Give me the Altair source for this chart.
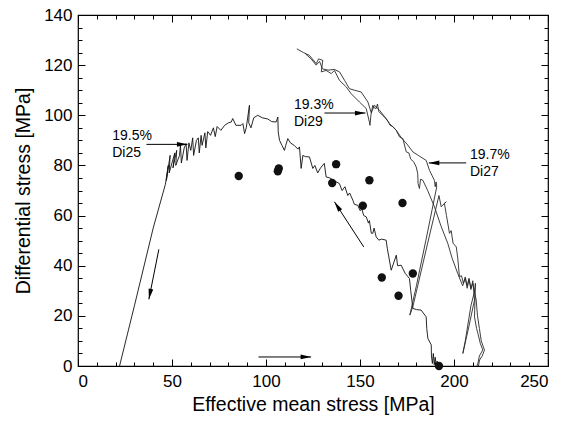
import math
import altair as alt
import pandas as pd

# ---------------- data ----------------
di25_x = [22.1, 30, 40, 46.5, 48, 47, 49, 48.5, 50, 51.5, 50.5, 52.5, 52, 54, 54.5, 55, 56.5, 57.5, 58, 59,
          60, 61, 61.5, 63, 64, 64.5, 65.5, 66, 67.5, 68, 69, 70.5, 72, 73, 74, 76, 78, 80, 81.5, 82.3,
          84, 86.8, 87.7, 88.6, 89.5, 91.2, 90.8, 92, 93.5, 95.6, 98, 101, 103, 105.4, 106.3, 106.5, 107.2,
          108.5, 109.8, 110.5, 111.6, 113, 115, 117, 117.8, 118.7, 119.6, 121, 123.1, 124.9, 126, 127.5,
          129, 131, 132, 134, 136, 139, 140.5, 142, 143.5, 144.5, 146.2, 147, 148.8, 150, 151, 152, 153.3,
          154.5, 155, 156, 156.8, 157.5, 158.6, 160, 161.5, 163.9, 164.5, 166.6, 169.3, 170, 171.9, 174,
          176.3, 177, 178.1, 180, 182.5, 185.2, 185.5, 186.1, 187.9, 188, 188.5, 189, 189.5, 190, 190.5,
          191, 191.5]
di25_y = [0, 24, 55, 72.5, 80, 74, 84, 77, 81, 85, 79, 86, 80, 84, 88, 81, 87, 88.7, 82, 89,
          86, 91, 84, 90, 91, 85, 92, 88, 93, 87, 93.5, 92, 95, 91.5, 95.5, 94, 96, 97, 97.3, 98.7,
          96, 96, 96.7, 92.7, 95, 104, 97, 95, 99, 100, 99, 98.5, 97.5, 97.3, 99.3, 93.3, 90,
          88, 86, 88, 90.7, 89, 88, 86.5, 87.4, 78.8, 84, 83.5, 83.4, 78.8, 80, 77,
          79, 80.8, 75.4, 75, 74, 72.8, 70, 71.5, 68, 69, 66.1, 64.5, 64.1, 62, 62.5, 60, 59.5,
          57, 58, 53, 52.9, 55, 51.5, 50.2, 50.6, 50.2, 47, 38.2, 44.2, 40, 40.2, 37,
          34.9, 30, 23, 22.5, 22.3, 19.6, 15, 11, 8.4, 4, 1, 5, 0.5, 3.5, 0.3,
          2, 0]

di29_x = [116.4, 120, 123.1, 126.7, 128, 130.2, 129.4, 132, 134.7, 136.4, 139.1, 142.7, 145.3, 149.7,
          153.3, 155, 155.3, 155.8, 156.8, 157.5, 158.6, 159.3, 160, 162, 163.9, 165, 166, 167.5, 169.3,
          171, 172.8, 174.6, 176, 177, 178.5, 179.9, 180.7, 180.9, 181.6, 182.2, 183.4, 186, 189.6, 193,
          196.7, 199, 202, 204.6, 206, 207, 208, 209, 210, 210.9, 208, 204.7, 206, 209, 211, 211.4, 211,
          210.9, 212, 212.7, 214, 215.3, 213.5, 212.7, 212.2]
di29_y = [126.5, 125, 123.9, 120.6, 122.5, 121.9, 117.3, 117.9, 116.6, 117.9, 113.9, 111.3, 108.6, 105.3,
          102.7, 97.3, 96, 100, 104, 103, 102.7, 104.5, 101.5, 100, 98.7, 97.5, 96, 95.5, 94,
          91.4, 90.7, 85.4, 85, 82.5, 81.5, 79.4, 76.8, 72.8, 70.8, 74.5, 74.1, 70, 63.5, 56,
          48.9, 43, 36.9, 32, 35, 31, 34.5, 30.5, 34, 26.3, 16, 5, 10, 24, 30, 33, 22,
          19.6, 15, 13, 9, 6.4, 4, 1.1, 0]

di27_x = [121, 124, 126.7, 128.5, 130, 133, 136.4, 139.1, 141.8, 144.4, 147, 150.6, 154.2, 156, 157.7,
          160.4, 163, 165.7, 169.3, 172, 175, 178.1, 181, 185.2, 187, 188.7, 189.6, 190, 190.5, 190.8,
          185, 180, 176.5, 178.1, 186, 192, 193.2, 195.8, 194.9, 196, 197.6, 198.5, 199.5, 201.2, 202,
          202.9, 204, 205, 206, 207, 208, 209, 210, 211.8, 212.5, 213.5, 214.5, 216.2, 215, 213.6, 213]
di27_y = [124.5, 122.5, 120, 121.5, 118.5, 118, 118.3, 117.3, 113.9, 110.6, 110, 109.3, 105.3, 101, 104,
          102, 99.5, 96.7, 94, 91, 88.5, 85.4, 84, 82, 78, 75.4, 74, 71.5, 73.4, 71.4,
          50, 32, 20.3, 23.6, 49, 68, 63.5, 65.5, 64.8, 60, 52.9, 54, 49, 47.5, 43,
          35.6, 36, 33, 35.5, 32, 35, 31, 33, 26.3, 20, 15, 10, 6.4, 4, 2.4, 0]

pts_x = [85.5, 106.3, 106.8, 135.2, 137.3, 151.5, 155.0, 172.6, 161.6, 178.1, 170.5, 192.0]
pts_y = [75.8, 77.7, 78.8, 73.0, 80.5, 63.9, 74.1, 65.0, 35.3, 36.9, 28.0, 0.0]

ann_text = ["19.5%\nDi25", "19.3%\nDi29", "19.7%\nDi27"]
ann_x = [18.2, 114.9, 208.5]
ann_y = [90.0, 102.7, 82.4]

arr_x1 = [36.4, 131.1, 206.5, 43.0, 152.0, 96.0]
arr_y1 = [88.4, 100.9, 81.0, 46.5, 47.5, 3.6]
arr_x2 = [58.2, 152.9, 186.6, 37.7, 136.4, 124.0]
arr_y2 = [88.4, 100.9, 81.0, 26.6, 65.5, 3.6]

x_major = [0, 50, 100, 150, 200, 250]
x_minor = [v for v in range(0, 251, 10) if v % 50]
y_major = list(range(0, 141, 20))
y_minor = [v for v in range(0, 141, 5) if v % 20]

# ---------------- layout ----------------
W, H = 470, 351
FONT = "Liberation Sans"
sx, sy = W / 250.0, H / 140.0

rows = []
for name, xs_, ys_ in [("Di25", di25_x, di25_y), ("Di29", di29_x, di29_y), ("Di27", di27_x, di27_y)]:
    for i, (a, b) in enumerate(zip(xs_, ys_)):
        rows.append({"x": a, "y": b, "series": name, "order": i})
lines_df = pd.DataFrame(rows)
pts_df = pd.DataFrame({"x": pts_x, "y": pts_y})
ann_df = pd.DataFrame({"x": ann_x, "y": ann_y, "t": ann_text})
arr_df = pd.DataFrame({"x": arr_x1, "y": arr_y1, "x2": arr_x2, "y2": arr_y2})
arr_df["ang"] = [
    math.degrees(math.atan2((b - a) * sx, (d - c) * sy)) % 360
    for a, b, c, d in zip(arr_x1, arr_x2, arr_y1, arr_y2)
]

xsc = alt.Scale(domain=[0, 250], nice=False, zero=False)
ysc = alt.Scale(domain=[0, 140], nice=False, zero=False)


def tick_axis(orient, offset, values, size):
    return alt.Axis(orient=orient, offset=offset, values=values, labels=False, title=None,
                    domain=False, grid=False, ticks=True, tickSize=size, tickColor="black",
                    tickWidth=1)


x_main = alt.Axis(orient="bottom", values=x_major, title="Effective mean stress [MPa]",
                  ticks=False, tickSize=0, domain=False, grid=False, labelFont=FONT, titleFont=FONT,
                  labelFontSize=17, titleFontSize=19.5, labelColor="black", titleColor="black",
                  titleFontWeight="normal", labelPadding=7, titlePadding=6)
y_main = alt.Axis(orient="left", values=y_major, title="Differential stress [MPa]",
                  ticks=False, tickSize=0, domain=False, grid=False, labelFont=FONT, titleFont=FONT,
                  labelFontSize=17, titleFontSize=19.5, labelColor="black", titleColor="black",
                  titleFontWeight="normal", labelPadding=6, titlePadding=10)

lines = alt.Chart(lines_df).mark_line(strokeWidth=0.9).encode(
    x=alt.X("x:Q", scale=xsc, axis=x_main),
    y=alt.Y("y:Q", scale=ysc, axis=y_main),
    detail="series:N",
    order="order:Q",
    color=alt.Color("series:N", scale=alt.Scale(domain=["Di25", "Di29", "Di27"],
                                                range=["#111111", "#2a2a2a", "#2a2a2a"]),
                    legend=None),
)

points = alt.Chart(pts_df).mark_circle(size=70, color="#111111", opacity=1).encode(
    x=alt.X("x:Q", scale=xsc, axis=tick_axis("top", -H, x_major, 7)),
    y=alt.Y("y:Q", scale=ysc, axis=tick_axis("right", -W, y_major, 7)),
)

rules = alt.Chart(arr_df).mark_rule(color="black", strokeWidth=1).encode(
    x=alt.X("x:Q", scale=xsc, axis=tick_axis("top", -H, x_minor, 4)),
    y=alt.Y("y:Q", scale=ysc, axis=tick_axis("right", -W, y_minor, 4)),
    x2="x2:Q",
    y2="y2:Q",
)

heads = alt.Chart(arr_df).mark_point(shape="M0,0L-0.45,2L0.45,2Z", filled=True, size=110,
                                     color="black", opacity=1).encode(
    x=alt.X("x2:Q", scale=xsc, axis=tick_axis("bottom", -H, x_major, 7)),
    y=alt.Y("y2:Q", scale=ysc, axis=tick_axis("left", -W, y_major, 7)),
    angle=alt.Angle("ang:Q", scale=None),
)

texts = alt.Chart(ann_df).mark_text(align="left", baseline="alphabetic", font=FONT, fontSize=14,
                                    lineBreak="\n", lineHeight=17, color="black").encode(
    x=alt.X("x:Q", scale=xsc, axis=tick_axis("bottom", -H, x_minor, 4)),
    y=alt.Y("y:Q", scale=ysc, axis=tick_axis("left", -W, y_minor, 4)),
    text="t:N",
)

chart = alt.layer(lines, points, rules, heads, texts).resolve_axis(
    x="independent", y="independent"
).properties(
    width=W, height=H,
    autosize=alt.AutoSizeParams(type="none"),
    padding={"left": 78, "top": 15, "right": 27, "bottom": 55},
    background="white",
).configure_view(stroke="black", strokeWidth=1.2)

chart.save("out.html", embed_options={"renderer": "svg", "actions": False})
